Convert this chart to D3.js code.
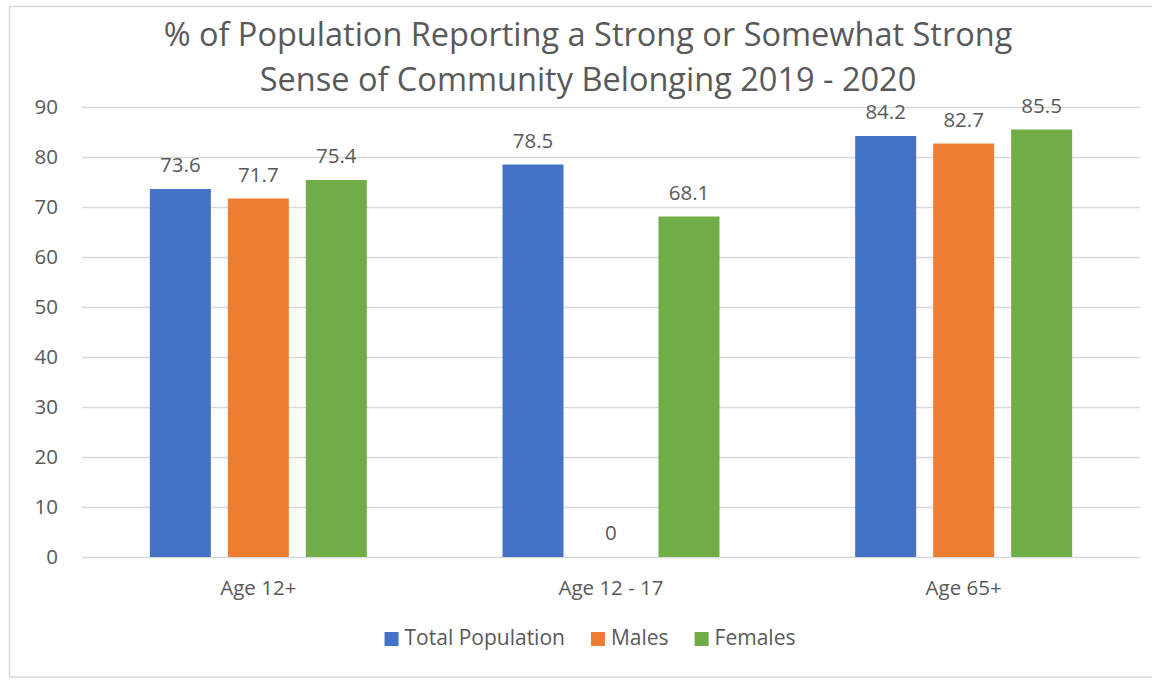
<!DOCTYPE html>
<html lang="en">
<head>
    <meta charset="UTF-8">
    <script src="https://d3js.org/d3.v7.min.js"></script>
    <title>Community Belonging</title>
    <style>
        body { margin: 0; background: #fff; }
        text { font-family: "Open Sans", sans-serif; fill: #595959; }
    </style>
</head>
<body>
    <div class="chart"></div>

    <script>
        const categories = ["Age 12+", "Age 12 - 17", "Age 65+"];
        const seriesNames = ["Total Population", "Males", "Females"];
        const totalPopulation = [73.6, 78.5, 84.2];
        const males = [71.7, 0, 82.7];
        const females = [75.4, 68.1, 85.5];
        const yTicks = [0, 10, 20, 30, 40, 50, 60, 70, 80, 90];
        const titleLines = ["% of Population Reporting a Strong or Somewhat Strong",
                            "Sense of Community Belonging 2019 - 2020"];

        const colors = ["#4472C4", "#ED7D31", "#70AD47"];
        const seriesValues = [totalPopulation, males, females];

        const W = 1152, H = 680;
        const plot = { left: 82, right: 1140, top: 107, bottom: 557 };

        const svg = d3.select(".chart")
          .append("svg")
          .attr("width", W)
          .attr("height", H);

        // outer frame
        svg.append("rect")
          .attr("x", 9.5).attr("y", 6.5)
          .attr("width", 1160).attr("height", 670.5)
          .attr("fill", "none")
          .attr("stroke", "#d9d9d9")
          .attr("stroke-width", 1.5);

        const x0 = d3.scaleBand()
          .domain(categories)
          .range([plot.left, plot.right]);

        const x1 = d3.scaleBand()
          .domain(seriesNames)
          .range([0, x0.bandwidth()])
          .paddingInner(0.218)
          .paddingOuter(0.87);

        const y = d3.scaleLinear()
          .domain([0, 90])
          .range([plot.bottom, plot.top]);

        // gridlines + y labels
        const yAxis = svg.append("g")
          .attr("transform", "translate(" + plot.left + ",0)")
          .call(d3.axisLeft(y).tickValues(yTicks).tickSize(-(plot.right - plot.left)).tickPadding(24));
        yAxis.select(".domain").remove();
        yAxis.selectAll(".tick line").attr("stroke", "#d9d9d9").attr("stroke-width", 1.5);
        yAxis.selectAll(".tick text")
          .style("font-size", "20.5px")
          .style("font-family", "'Open Sans', sans-serif")
          .attr("fill", "#595959");

        const rows = categories.map((c, i) => ({
          category: c,
          values: seriesNames.map((s, j) => ({ series: s, value: seriesValues[j][i], color: colors[j] }))
        }));

        const groups = svg.selectAll(".group")
          .data(rows)
          .enter()
          .append("g")
          .attr("class", "group")
          .attr("transform", d => "translate(" + x0(d.category) + ",0)");

        groups.selectAll("rect")
          .data(d => d.values)
          .enter()
          .append("rect")
          .attr("x", d => x1(d.series))
          .attr("y", d => y(d.value))
          .attr("width", x1.bandwidth())
          .attr("height", d => y(0) - y(d.value))
          .attr("fill", d => d.color);

        groups.selectAll(".data-label")
          .data(d => d.values)
          .enter()
          .append("text")
          .attr("class", "data-label")
          .attr("x", d => x1(d.series) + x1.bandwidth() / 2)
          .attr("y", d => y(d.value) - 17)
          .attr("text-anchor", "middle")
          .style("font-size", "20.5px")
          .text(d => d.value);

        // category labels
        svg.selectAll(".cat-label")
          .data(categories)
          .enter()
          .append("text")
          .attr("class", "cat-label")
          .attr("x", d => x0(d) + x0.bandwidth() / 2)
          .attr("y", 595)
          .attr("text-anchor", "middle")
          .style("font-size", "20.5px")
          .text(d => d);

        // title
        svg.selectAll(".title")
          .data(titleLines)
          .enter()
          .append("text")
          .attr("class", "title")
          .attr("x", 588)
          .attr("y", (d, i) => 46 + i * 45)
          .attr("text-anchor", "middle")
          .style("font-size", "32.5px")
          .text(d => d);

        // legend
        const legend = svg.append("g");
        let lx = 0;
        seriesNames.forEach((s, i) => {
          const item = legend.append("g").attr("transform", "translate(" + lx + ",0)");
          item.append("rect")
            .attr("x", 0).attr("y", 632)
            .attr("width", 14).attr("height", 14)
            .attr("fill", colors[i]);
          const t = item.append("text")
            .attr("x", 20).attr("y", 645)
            .style("font-size", "21px")
            .text(s);
          lx += 20 + t.node().getComputedTextLength() + 26;
        });
        const legendWidth = lx - 26;
        legend.attr("transform", "translate(" + (590 - legendWidth / 2) + ",0)");
    </script>
</body>
</html>
